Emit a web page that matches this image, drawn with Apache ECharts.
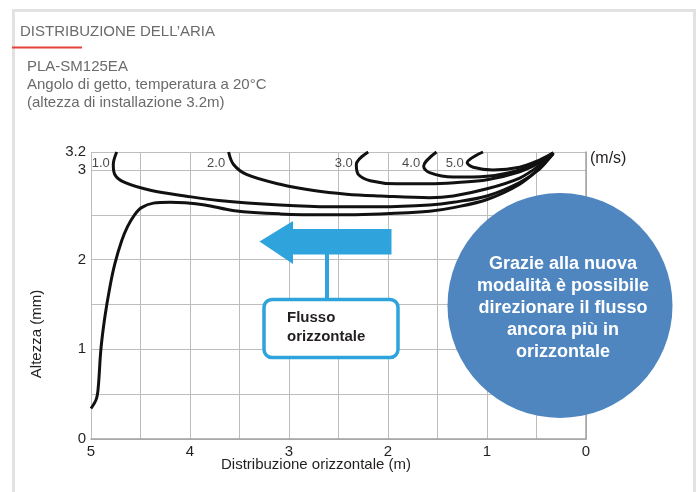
<!DOCTYPE html>
<html>
<head>
<meta charset="utf-8">
<script src="https://cdn.jsdelivr.net/npm/echarts@6/dist/echarts.min.js"></script>
<style>
  html, body { margin: 0; padding: 0; background: #ffffff; }
  #chart { width: 697px; height: 492px; }
</style>
</head>
<body>
<div id="chart"></div>
<script>
// Air-velocity isolines (m/s) for the horizontal-flow mode, [distance m, height m]
const contourNames = ['1.0', '2.0', '3.0', '4.0', '5.0'];

const curveOuter = [[5.0,0.34],[4.945,0.45],[4.925,0.6],[4.9,1.0],[4.86,1.36],[4.81,1.69],[4.76,1.95],[4.69,2.21],[4.63,2.37],[4.56,2.5],[4.49,2.58],[4.37,2.63],[4.2,2.64],[4.05,2.635],[3.85,2.61],[3.55,2.545],[3.09,2.51],[2.59,2.5],[2.08,2.51],[1.58,2.54],[1.34,2.58],[1.0,2.67],[0.67,2.84],[0.47,3.02],[0.33,3.18]];
const curve10 = [[4.74,3.2],[4.775,3.06],[4.76,2.95],[4.66,2.86],[4.39,2.77],[4.05,2.71],[3.71,2.66],[3.09,2.61],[2.59,2.59],[2.08,2.59],[1.58,2.61],[1.34,2.64],[1.0,2.71],[0.67,2.86],[0.47,3.01],[0.33,3.19]];
const curve20 = [[3.61,3.2],[3.56,3.06],[3.43,2.95],[3.09,2.84],[2.75,2.77],[2.42,2.73],[2.08,2.71],[1.58,2.69],[1.34,2.71],[1.0,2.79],[0.67,2.91],[0.47,3.05],[0.33,3.19]];
const curve30 = [[2.2,3.2],[2.32,3.06],[2.3,2.95],[2.18,2.88],[1.91,2.845],[1.58,2.845],[1.3,2.86],[1.0,2.89],[0.67,2.98],[0.47,3.08],[0.33,3.19]];
const curve40 = [[1.51,3.2],[1.64,3.04],[1.58,2.97],[1.34,2.92],[1.0,2.93],[0.67,3.0],[0.47,3.1],[0.33,3.19]];
const curve50 = [[1.04,3.2],[1.2,3.08],[1.14,3.03],[0.94,3.0],[0.67,3.03],[0.47,3.11],[0.33,3.19]];

const labelledCurves = [curve10, curve20, curve30, curve40, curve50];

// Axis ticks
const xTickLabels = [0, 1, 2, 3, 4, 5];
const yTickLabels = [0, 1, 2, 3, 3.2];
const tagRowHeight = 3.07; // height of the row holding the isoline values

// Tag anchors: the farthest point of each isoline near the ceiling
const tagPoints = labelledCurves.map((c, i) => {
  const top = c.filter(p => p[1] > 3.0);
  const far = Math.max.apply(null, top.map(p => p[0]));
  return { value: [far, tagRowHeight], name: contourNames[i] };
});

const lineColor = '#111111';
const inList = (list, v) => list.some(t => Math.abs(t - v) < 1e-6);

function curveSeries(name, data) {
  return {
    name: name,
    type: 'line',
    data: data,
    smooth: 0.35,
    showSymbol: false,
    symbol: 'none',
    silent: true,
    lineStyle: { color: lineColor, width: 3 },
    z: 3
  };
}

const chart = echarts.init(document.getElementById('chart'), null, { renderer: 'canvas' });

chart.setOption({
  animation: false,
  backgroundColor: '#ffffff',
  grid: { left: 91, right: 111, top: 152, bottom: 53 },
  xAxis: {
    type: 'value',
    min: 0, max: 5, interval: 0.5,
    inverse: true,
    axisLine: { show: true, lineStyle: { color: '#a3a3a3', width: 1.5 } },
    axisTick: { show: false },
    axisLabel: {
      color: '#231f20', fontSize: 15, fontFamily: 'Liberation Sans, Arial, sans-serif', margin: 5,
      formatter: v => inList(xTickLabels, v) ? String(Math.round(v)) : ''
    },
    splitLine: { show: true, lineStyle: { color: '#bdbdbd', width: 1 } }
  },
  yAxis: {
    type: 'value',
    min: 0, max: 3.2, interval: 0.5,
    axisLine: { show: true, lineStyle: { color: '#a3a3a3', width: 1.5 } },
    axisTick: { show: false },
    axisLabel: {
      color: '#231f20', fontSize: 15, fontFamily: 'Liberation Sans, Arial, sans-serif', margin: 5,
      formatter: v => inList(yTickLabels, v) ? String(Math.round(v * 10) / 10) : ''
    },
    splitLine: { show: true, lineStyle: { color: '#bdbdbd', width: 1 } }
  },
  series: [
    curveSeries('outer', curveOuter),
    curveSeries('1.0', curve10),
    curveSeries('2.0', curve20),
    curveSeries('3.0', curve30),
    curveSeries('4.0', curve40),
    curveSeries('5.0', curve50),
    {
      name: 'tags',
      type: 'scatter',
      data: tagPoints,
      symbol: 'circle',
      symbolSize: 1,
      silent: true,
      itemStyle: { color: 'rgba(0,0,0,0)' },
      label: {
        show: true,
        position: 'left',
        distance: 3,
        formatter: p => p.name,
        color: '#1a1a1a',
        fontSize: 13,
        fontFamily: '"Liberation Sans Narrow", "Liberation Sans", Arial, sans-serif'
      },
      z: 4
    }
  ],
  graphic: [
    // panel frame
    { type: 'rect', z: 1, silent: true,
      shape: { x: 13.5, y: 10.5, width: 681, height: 500 },
      style: { fill: 'none', stroke: '#e2e2e2', lineWidth: 3 } },
    { type: 'rect', z: 2, silent: true,
      shape: { x: 12, y: 46.5, width: 70, height: 2 },
      style: { fill: '#e8413c' } },
    { type: 'text', x: 20, y: 32, z: 2, silent: true,
      style: { text: 'DISTRIBUZIONE DELL\u2019ARIA', fill: '#6b6b6b',
        font: '15px "Liberation Sans", Arial, sans-serif', textVerticalAlign: 'middle' } },
    { type: 'text', x: 27, y: 67, z: 2, silent: true,
      style: { text: 'PLA-SM125EA', fill: '#6b6b6b',
        font: '15px "Liberation Sans", Arial, sans-serif', textVerticalAlign: 'middle' } },
    { type: 'text', x: 27, y: 85, z: 2, silent: true,
      style: { text: 'Angolo di getto, temperatura a 20\u00b0C', fill: '#6b6b6b',
        font: '15px "Liberation Sans", Arial, sans-serif', textVerticalAlign: 'middle' } },
    { type: 'text', x: 27, y: 103, z: 2, silent: true,
      style: { text: '(altezza di installazione 3.2m)', fill: '#6b6b6b',
        font: '15px "Liberation Sans", Arial, sans-serif', textVerticalAlign: 'middle' } },
    // axis titles and unit
    { type: 'text', x: 316, y: 465, z: 2, silent: true,
      style: { text: 'Distribuzione orizzontale (m)', fill: '#231f20',
        font: '15px "Liberation Sans", Arial, sans-serif', textAlign: 'center', textVerticalAlign: 'middle' } },
    { type: 'text', x: 37, y: 334, rotation: Math.PI / 2, z: 2, silent: true,
      style: { text: 'Altezza (mm)', fill: '#231f20',
        font: '15px "Liberation Sans", Arial, sans-serif', textAlign: 'center', textVerticalAlign: 'middle' } },
    { type: 'text', x: 590, y: 159, z: 2, silent: true,
      style: { text: '(m/s)', fill: '#231f20',
        font: '16px "Liberation Sans", Arial, sans-serif', textVerticalAlign: 'middle' } },
    // horizontal-flow arrow with callout
    { type: 'polygon', z: 10, silent: true,
      shape: { points: [[259.5, 241.5], [293, 221], [293, 229], [391.5, 229], [391.5, 254.5], [293, 254.5], [293, 264]] },
      style: { fill: '#2fa3dc' } },
    { type: 'rect', z: 10, silent: true,
      shape: { x: 325, y: 253, width: 4, height: 47 },
      style: { fill: '#2fa3dc' } },
    { type: 'rect', z: 11, silent: true,
      shape: { x: 264, y: 299.5, width: 134, height: 58, r: 8 },
      style: { fill: '#ffffff', stroke: '#2fa3dc', lineWidth: 3.5 } },
    { type: 'text', x: 287, y: 327, z: 12, silent: true,
      style: { text: 'Flusso\norizzontale', fill: '#231f20', lineHeight: 19,
        font: 'bold 15px "Liberation Sans", Arial, sans-serif', textVerticalAlign: 'middle' } },
    // highlight bubble
    { type: 'circle', z: 10, silent: true,
      shape: { cx: 560, cy: 305.5, r: 112.5 },
      style: { fill: '#4f86c0' } },
    { type: 'text', x: 563, y: 308, z: 12, silent: true,
      style: { text: 'Grazie alla nuova\nmodalit\u00e0 \u00e8 possibile\ndirezionare il flusso\nancora pi\u00f9 in\norizzontale',
        fill: '#ffffff', lineHeight: 22,
        font: 'bold 18px "Liberation Sans", Arial, sans-serif', textAlign: 'center', textVerticalAlign: 'middle' } }
  ]
});
</script>
</body>
</html>
